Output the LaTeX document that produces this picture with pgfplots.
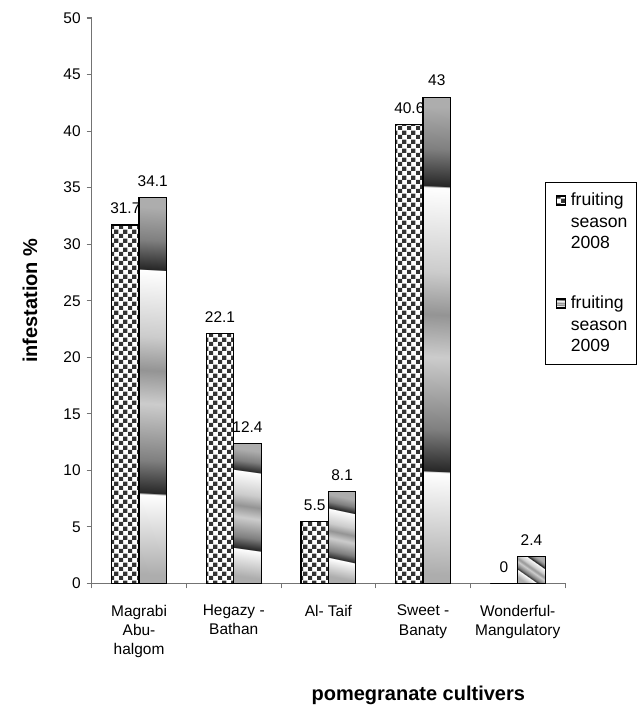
\documentclass[border=0pt]{standalone}
\usepackage{fontspec}
\setmainfont{Liberation Sans}
\usepackage{pgfplots}
\pgfplotsset{compat=1.18}
\usetikzlibrary{patterns}

\definecolor{gC15}{gray}{0.15}
\definecolor{gC50}{gray}{0.50}
\definecolor{gC55}{gray}{0.58}
\definecolor{gC70}{gray}{0.68}
\definecolor{gC80}{gray}{0.80}
\definecolor{gDark}{gray}{0.2}
\definecolor{axgray}{gray}{0.45}

\pgfdeclareverticalshading{bands}{100bp}{color(0bp)=(gC70); color(25bp)=(gC70); color(35.9bp)=(white); color(36bp)=(gC15); color(40.5bp)=(gC50); color(48.2bp)=(gC80); color(52.75bp)=(gC55); color(57.35bp)=(gC80); color(66.4bp)=(white); color(66.5bp)=(gC15); color(70.5bp)=(gC50); color(75bp)=(gC70); color(100bp)=(gC70)}

\pgfdeclarepatternformonly{mycheck}{\pgfqpoint{0pt}{0pt}}{\pgfqpoint{6.9pt}{6.9pt}}{\pgfqpoint{6.9pt}{6.9pt}}{%
\pgfpathrectangle{\pgfqpoint{0pt}{0pt}}{\pgfqpoint{3.45pt}{3.45pt}}%
\pgfpathrectangle{\pgfqpoint{3.45pt}{3.45pt}}{\pgfqpoint{3.45pt}{3.45pt}}%
\pgfusepath{fill}}

\newcommand\tickfont{\fontsize{11.6}{14.3}\selectfont}
\newcommand\legfont{\fontsize{13.2}{16.1}\selectfont}
\newcommand\titlefont{\fontsize{15}{18}\selectfont\bfseries}

\begin{document}
\begin{tikzpicture}
\begin{axis}[
  scale only axis, width=355pt, height=424.1pt,
  at={(0pt,0pt)}, anchor=south west,
  xmin=-0.5, xmax=4.5, ymin=0, ymax=50,
  ybar=0pt, bar width=0.29,
  axis lines*=left,
  axis line style={axgray, line width=0.8pt},
  tick style={axgray, line width=0.8pt},
  tick align=outside, major tick length=3.75pt,
  ytick={0,5,...,50},
  xtick={-0.5,0.5,...,4.5},
  x tick label as interval,
  xticklabels={{Magrabi\\Abu-\\halgom},{Hegazy -\\Bathan},{Al- Taif},{Sweet -\\Banaty},{Wonderful-\\Mangulatory}},
  xticklabel style={align=center, font=\tickfont, anchor=north, yshift=-9pt},
  yticklabel style={font=\tickfont, xshift=-1pt},
  /pgf/number format/assume math mode=true,
  ylabel={infestation \%},
  xlabel={pomegranate cultivers},
  ylabel style={at={(axis description cs:-0.1304,0.5)}, anchor=center, font=\titlefont},
  xlabel style={at={(axis description cs:0.69,0)}, anchor=center, yshift=-84pt, font=\titlefont},
  nodes near coords,
  every node near coord/.append style={font=\tickfont, black, yshift=4.5pt},
  legend image code/.code={\path (0pt,16.1pt) (11pt,16.1pt);
     \draw[#1] (2.5pt,12.7pt) rectangle (9.2pt,19.4pt);},
  legend style={at={(0.958,0.710)}, anchor=north west, draw=black, line width=0.6pt,
    font=\legfont, cells={align=left, anchor=west}, row sep=30pt,
    inner xsep=5pt, inner ysep=6pt},
  legend cell align=left,
]
\addplot[bar shift=-0.145, draw=black, line width=0.9pt, preaction={fill=white}, pattern=mycheck, pattern color=gDark]
  coordinates {(0,31.7) (1,22.1) (2,5.5) (3,40.6) (4,0)};
\addlegendentry{fruiting\\season\\2008}
\addplot[bar shift=0.145, draw=black, line width=0.9pt, shading=bands, shading angle=-3]
  coordinates {(0,34.1)};
\addlegendentry{fruiting\\season\\2009}
\addplot[forget plot, bar shift=0.145, draw=black, line width=0.9pt, shading=bands, shading angle=-8]
  coordinates {(1,12.4)};
\addplot[forget plot, bar shift=0.145, draw=black, line width=0.9pt, shading=bands, shading angle=-12]
  coordinates {(2,8.1)};
\addplot[forget plot, bar shift=0.145, draw=black, line width=0.9pt, shading=bands, shading angle=-2.4]
  coordinates {(3,43)};
\addplot[forget plot, bar shift=0.145, draw=black, line width=0.9pt, shading=bands, shading angle=-35]
  coordinates {(4,2.4)};
\end{axis}
\pgfresetboundingbox
\useasboundingbox (-68.8pt,-93.4pt) rectangle (412.7pt,437.6pt);
\end{tikzpicture}
\end{document}
